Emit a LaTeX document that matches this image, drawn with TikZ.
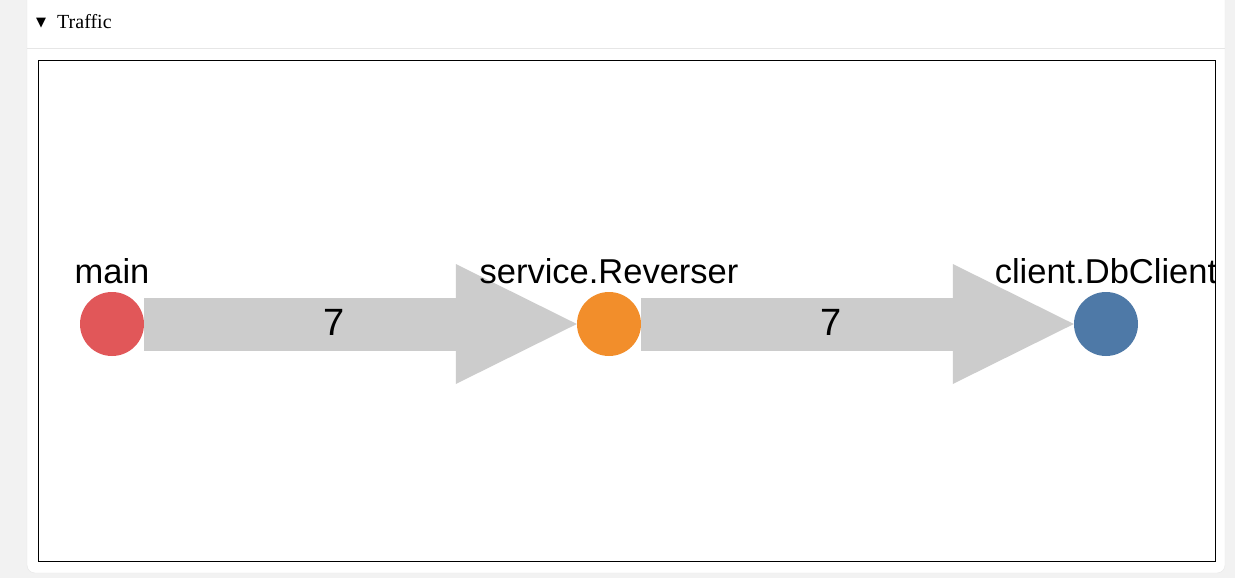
\documentclass[tikz,border=0pt]{standalone}
\usepackage{fontspec}
\setmainfont{Liberation Serif}
\setsansfont{Liberation Sans}
\newfontfamily\symfont{DejaVu Sans}
\usetikzlibrary{arrows.meta, positioning}

\definecolor{pagebg}{HTML}{F2F2F2}
\definecolor{cardline}{HTML}{E6E6E6}
\definecolor{linkgray}{HTML}{CCCCCC}
\definecolor{mainred}{HTML}{E15759}
\definecolor{svcorange}{HTML}{F28E2B}
\definecolor{dbblue}{HTML}{4E79A7}

\begin{document}
\begin{tikzpicture}[x=1pt, y=-1pt,
    svc/.style={circle, minimum size=64pt, inner sep=0pt},
    lbl/.style={anchor=base, inner sep=0pt, font=\sffamily\fontsize{34.5}{34.5}\selectfont},
    cnt/.style={anchor=base, inner sep=0pt, font=\sffamily\fontsize{38}{38}\selectfont},
    flow/.style={draw=linkgray, line width=53pt, -{Triangle[length=121pt, width=120pt, line width=0pt]}}
  ]
    \useasboundingbox[fill=pagebg] (0,0) rectangle (1235,578);
    % card with header
    \draw[cardline, fill=white, rounded corners=8pt] (27,-8) rectangle (1225,573);
    \draw[cardline, line width=1pt] (27,49) -- (1225,49);
    \node[anchor=base west, inner sep=0pt, font=\symfont\fontsize{13}{13}\selectfont] (toggle) at (36,27) {▼};
    \node[anchor=base west, inner sep=0pt, font=\fontsize{20}{20}\selectfont] (title) at (57,29) {Traffic};

    \begin{scope}
    \clip (38,60) rectangle (1215,561);
    \node[svc, fill=mainred] (main) at (112,324) {};
    \node[svc, fill=svcorange] (reverser) at (609,324) {};
    \node[svc, fill=dbblue] (dbclient) at (1106,324) {};

    \draw[flow] (main) -- (reverser);
    \draw[flow] (reverser) -- (dbclient);

    \node[lbl] (mainlbl) at (112,283) {main};
    \node[lbl] (reverserlbl) at (609,283) {service.Reverser};
    \node[lbl] (dbclientlbl) at (1106,283) {client.DbClient};

    \node[cnt] (cnt1) at (334,335) {7};
    \node[cnt] (cnt2) at (831,335) {7};
    \end{scope}
    \draw[line width=0.9pt] (38,60) rectangle (1215,561);
  \end{tikzpicture}
\end{document}
